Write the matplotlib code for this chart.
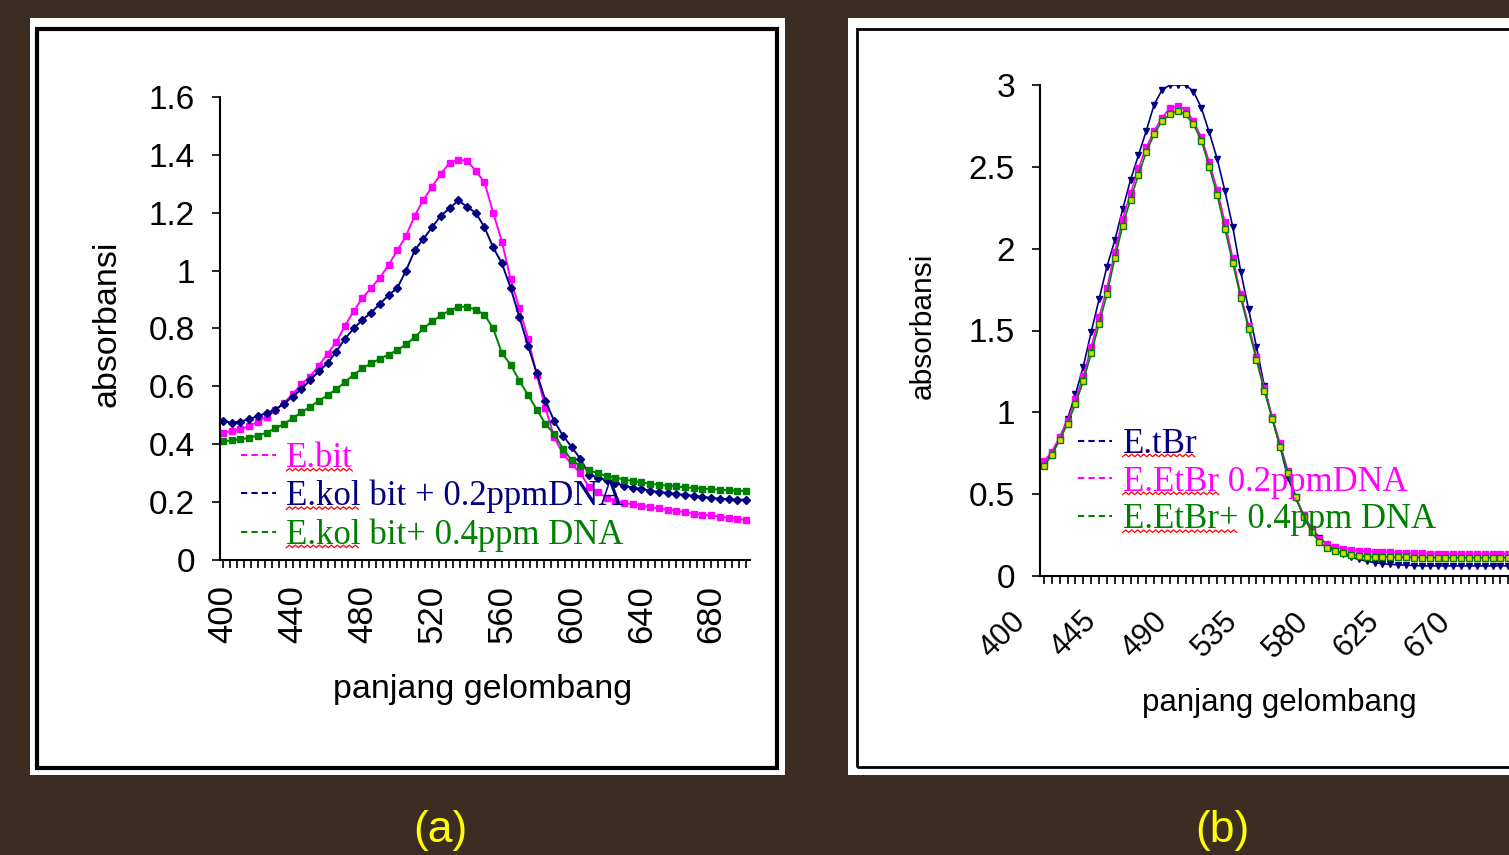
import numpy as np
import matplotlib
matplotlib.use("Agg")
import matplotlib.pyplot as plt
from matplotlib.patches import Rectangle
from matplotlib.lines import Line2D
from matplotlib.ticker import MultipleLocator, FixedLocator, FixedFormatter
from matplotlib.transforms import ScaledTranslation

W, H = 1509, 855

# ---- panel (a) data: absorbance vs wavelength, 5 nm steps ----
wl_a = list(range(400, 701, 5))
ebit = [0.44, 0.445, 0.452, 0.462, 0.478, 0.495, 0.518, 0.543, 0.574, 0.607,
        0.634, 0.672, 0.713, 0.753, 0.81, 0.86, 0.905, 0.94, 0.975, 1.02,
        1.07, 1.12, 1.19, 1.245, 1.29, 1.335, 1.372, 1.383, 1.38, 1.345,
        1.305, 1.20, 1.10, 0.97, 0.87, 0.765, 0.64, 0.525, 0.425, 0.367,
        0.332, 0.30, 0.252, 0.235, 0.215, 0.205, 0.198, 0.192, 0.188, 0.183,
        0.178, 0.174, 0.17, 0.165, 0.16, 0.157, 0.154, 0.15, 0.146, 0.142, 0.138]
ekol_02 = [0.48, 0.475, 0.478, 0.487, 0.497, 0.508, 0.52, 0.54, 0.565, 0.59,
           0.622, 0.652, 0.68, 0.72, 0.765, 0.80, 0.83, 0.855, 0.885, 0.915,
           0.94, 1.00, 1.07, 1.11, 1.15, 1.19, 1.215, 1.243, 1.22, 1.20,
           1.15, 1.08, 1.025, 0.94, 0.84, 0.74, 0.645, 0.55, 0.48, 0.43,
           0.39, 0.35, 0.295, 0.285, 0.275, 0.265, 0.257, 0.25, 0.245, 0.24,
           0.235, 0.232, 0.228, 0.225, 0.222, 0.218, 0.215, 0.212, 0.21, 0.209, 0.208]
ekol_04 = [0.41, 0.413, 0.417, 0.422, 0.43, 0.44, 0.455, 0.47, 0.49, 0.51,
           0.53, 0.55, 0.57, 0.59, 0.615, 0.64, 0.662, 0.68, 0.695, 0.71,
           0.725, 0.745, 0.77, 0.80, 0.825, 0.845, 0.862, 0.875, 0.875, 0.865,
           0.848, 0.80, 0.715, 0.675, 0.62, 0.57, 0.52, 0.47, 0.435, 0.385,
           0.345, 0.325, 0.31, 0.30, 0.29, 0.285, 0.278, 0.273, 0.268, 0.264,
           0.26, 0.257, 0.254, 0.251, 0.249, 0.247, 0.245, 0.243, 0.241, 0.24, 0.238]
labels_a = ["E.bit", "E.kol bit + 0.2ppmDNA", "E.kol bit+ 0.4ppm DNA"]
xticks_a = [400, 440, 480, 520, 560, 600, 640, 680]
yticks_a = [0, 0.2, 0.4, 0.6, 0.8, 1.0, 1.2, 1.4, 1.6]
yticklabels_a = ["0", "0.2", "0.4", "0.6", "0.8", "1", "1.2", "1.4", "1.6"]

# ---- panel (b) data ----
wl_b = list(range(400, 701, 5))
etbr = [0.69, 0.75, 0.84, 0.96, 1.11, 1.28, 1.49, 1.69, 1.89, 2.05,
        2.24, 2.42, 2.57, 2.72, 2.88, 2.97, 3.00, 3.00, 3.00, 2.96,
        2.86, 2.71, 2.55, 2.35, 2.13, 1.86, 1.63, 1.40, 1.16, 0.96,
        0.79, 0.60, 0.475, 0.37, 0.29, 0.235, 0.19, 0.155, 0.134, 0.115,
        0.102, 0.09, 0.082, 0.075, 0.071, 0.069, 0.066, 0.064, 0.062, 0.062,
        0.062, 0.062, 0.062, 0.062, 0.062, 0.062, 0.062, 0.062, 0.062, 0.062, 0.062]
etbr_02 = [0.70, 0.76, 0.85, 0.95, 1.08, 1.22, 1.40, 1.58, 1.76, 1.98,
           2.18, 2.34, 2.49, 2.62, 2.72, 2.80, 2.86, 2.873, 2.85, 2.78,
           2.68, 2.53, 2.36, 2.16, 1.94, 1.72, 1.53, 1.34, 1.15, 0.97,
           0.81, 0.64, 0.485, 0.37, 0.28, 0.226, 0.196, 0.177, 0.166, 0.158,
           0.154, 0.151, 0.148, 0.146, 0.144, 0.142, 0.14, 0.139, 0.138, 0.137,
           0.136, 0.135, 0.134, 0.134, 0.134, 0.134, 0.134, 0.134, 0.134, 0.134, 0.134]
etbr_04 = [0.67, 0.74, 0.83, 0.93, 1.05, 1.19, 1.36, 1.54, 1.72, 1.94,
           2.14, 2.30, 2.45, 2.59, 2.70, 2.78, 2.82, 2.843, 2.82, 2.76,
           2.66, 2.50, 2.33, 2.12, 1.91, 1.70, 1.51, 1.32, 1.13, 0.96,
           0.79, 0.63, 0.48, 0.36, 0.27, 0.205, 0.17, 0.15, 0.138, 0.129,
           0.123, 0.119, 0.117, 0.116, 0.115, 0.114, 0.114, 0.113, 0.113, 0.113,
           0.112, 0.112, 0.112, 0.112, 0.112, 0.112, 0.112, 0.112, 0.112, 0.112, 0.112]
labels_b = ["E.tBr", "E.EtBr 0.2ppmDNA", "E.EtBr+ 0.4ppm DNA"]
xticks_b = [400, 445, 490, 535, 580, 625, 670]
yticks_b = [0, 0.5, 1, 1.5, 2, 2.5, 3]
yticklabels_b = ["0", "0.5", "1", "1.5", "2", "2.5", "3"]

MAG, NAVY, GRN = "#ff00ff", "#000080", "#008000"
SANS = "Liberation Sans"
SERIF = "Liberation Serif"
LEG_FS = 25


def box(x0, y0, x1, y1):
    # pixel box (top-left origin) -> figure fraction rect
    return [x0 / W, 1 - y1 / H, (x1 - x0) / W, (y1 - y0) / H]


fig = plt.figure(figsize=(W / 100, H / 100), dpi=100)
fig.patch.set_facecolor("#3c2c21")

# slide frames
for (x0, y0, x1, y1), (bx0, by0, bx1, by1), lw in [
        ((30, 18, 785, 775), (37, 29, 777, 768), 3),
        ((848, 18, 1530, 775), (857, 29, 1540, 767), 2)]:
    r = box(x0, y0, x1, y1)
    fig.patches.append(Rectangle((r[0], r[1]), r[2], r[3], transform=fig.transFigure,
                                 facecolor="white", edgecolor="none", zorder=-10))
    r = box(bx0, by0, bx1, by1)
    fig.patches.append(Rectangle((r[0], r[1]), r[2], r[3], transform=fig.transFigure,
                                 facecolor="none", edgecolor="black", lw=lw, zorder=-9))


def style_axes(ax, fs):
    for s in ["top", "right"]:
        ax.spines[s].set_visible(False)
    for s in ["left", "bottom"]:
        ax.spines[s].set_linewidth(1.5)
        ax.spines[s].set_color("black")
    ax.tick_params(which="both", direction="out", width=1.2, length=6, colors="black")
    ax.tick_params(axis="y", labelsize=fs, pad=12)
    ax.set_facecolor("none")


# ---------------- panel (a) ----------------
ax1 = fig.add_axes(box(220, 97, 750, 560))
ax1.plot(wl_a, ebit, color=MAG, lw=1.4, marker="s", ms=4)
ax1.plot(wl_a, ekol_02, color=NAVY, lw=1.4, marker="D", ms=4)
ax1.plot(wl_a, ekol_04, color=GRN, lw=1.4, marker="s", ms=4)
ax1.set_xlim(398.3, 702.3)
ax1.set_ylim(0, 1.6)
style_axes(ax1, 24)
ax1.tick_params(axis="x", pad=12)
ax1.xaxis.set_major_locator(FixedLocator(xticks_a))
ax1.xaxis.set_minor_locator(MultipleLocator(4))
ax1.set_xticklabels([str(v) for v in xticks_a], rotation=90, fontsize=25, family=SANS)
ax1.yaxis.set_major_locator(FixedLocator(yticks_a))
ax1.yaxis.set_major_formatter(FixedFormatter(yticklabels_a))
for t in ax1.get_yticklabels():
    t.set_family(SANS)
ax1.set_ylabel("absorbansi", fontsize=24.5, family=SANS, va="center")
ax1.yaxis.set_label_coords(-0.213, 0.51)
ax1.set_xlabel("panjang gelombang", fontsize=24.5, family=SANS, va="center")
ax1.xaxis.set_label_coords(0.496, -0.28)

h_a = [Line2D([], [], color=c, lw=1.5, ls=(0, (3, 2))) for c in (MAG, NAVY, GRN)]
leg_a = ax1.legend(h_a, labels_a, loc="upper left", bbox_to_anchor=(0.04, 0.255),
                   frameon=False, prop={"family": SERIF, "size": LEG_FS},
                   labelcolor=[MAG, NAVY, GRN], handlelength=1.0, handletextpad=0.3,
                   labelspacing=0.14, borderpad=0, borderaxespad=0)

# ---------------- panel (b) ----------------
ax2 = fig.add_axes(box(1040, 85, 1509, 576))
ax2.plot(wl_b, etbr, color=NAVY, lw=1.2, marker="v", ms=4.5)
ax2.plot(wl_b, etbr_02, color=MAG, lw=1.2, marker="s", ms=4)
ax2.plot(wl_b, etbr_04, color=GRN, lw=1.2, marker="s", ms=4, mfc="#d8d800", mec=GRN)
ax2.set_xlim(397.5, 695.4)
ax2.set_ylim(0, 3)
style_axes(ax2, 24)
ax2.xaxis.set_major_locator(FixedLocator(xticks_b))
ax2.xaxis.set_minor_locator(MultipleLocator(5))
ax2.set_xticklabels([str(v) for v in xticks_b], rotation=45, ha="right",
                    rotation_mode="anchor", fontsize=22, family=SANS)
shift = ScaledTranslation(-0.34, -0.17, fig.dpi_scale_trans)
for t in ax2.get_xticklabels():
    t.set_transform(t.get_transform() + shift)
ax2.yaxis.set_major_locator(FixedLocator(yticks_b))
ax2.yaxis.set_major_formatter(FixedFormatter(yticklabels_b))
for t in ax2.get_yticklabels():
    t.set_family(SANS)
ax2.set_ylabel("absorbansi", fontsize=21.5, family=SANS, va="center")
ax2.yaxis.set_label_coords(-0.25, 0.51)
ax2.set_xlabel("panjang gelombang", fontsize=22.5, family=SANS, va="center")
ax2.xaxis.set_label_coords(0.51, -0.258)

h_b = [Line2D([], [], color=c, lw=1.5, ls=(0, (3, 2))) for c in (NAVY, MAG, GRN)]
leg_b = ax2.legend(h_b, labels_b, loc="upper left", bbox_to_anchor=(0.08, 0.302),
                   frameon=False, prop={"family": SERIF, "size": LEG_FS},
                   labelcolor=[NAVY, MAG, GRN], handlelength=1.0, handletextpad=0.3,
                   labelspacing=0.14, borderpad=0, borderaxespad=0)

# captions
fig.text(440 / W, 1 - 830 / H, "(a)", color="#ffff00", fontsize=32, family=SANS,
         ha="center", va="center")
fig.text(1222 / W, 1 - 830 / H, "(b)", color="#ffff00", fontsize=32, family=SANS,
         ha="center", va="center")

# red spell-check squiggles under the first word of each legend entry
fig.canvas.draw()
rend = fig.canvas.get_renderer()
for leg in (leg_a, leg_b):
    for t in leg.get_texts():
        bb = t.get_window_extent(rend)
        tmp = fig.text(0, 0, t.get_text().split()[0], family=SERIF, size=LEG_FS)
        w = tmp.get_window_extent(rend).width
        tmp.remove()
        n = int(w // 3)
        xs = bb.x0 + 3 * np.arange(n + 1)
        ys = bb.y0 + 4 + 2.5 * (np.arange(n + 1) % 2)
        fig.add_artist(Line2D(xs, ys, transform=None, color="red", lw=0.9))

fig.savefig("out.png", dpi=100, facecolor=fig.get_facecolor())
